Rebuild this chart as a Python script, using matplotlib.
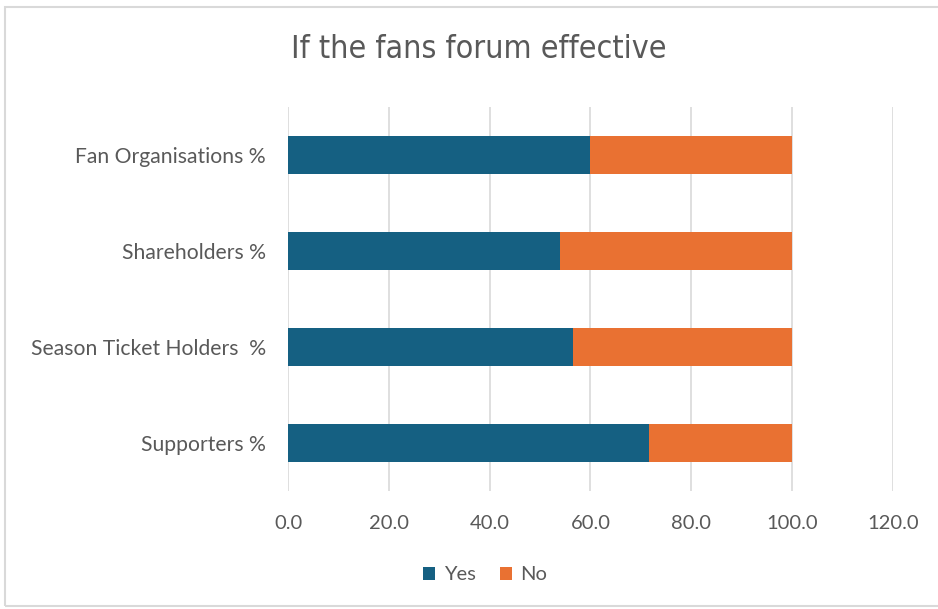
import matplotlib
matplotlib.use("Agg")
import matplotlib.pyplot as plt
from matplotlib.patches import Rectangle

categories = ["Supporters %", "Season Ticket Holders  %", "Shareholders %",
              "Fan Organisations %"]
yes_vals = [71.6, 56.6, 54.0, 60.0]
no_vals = [28.4, 43.4, 46.0, 40.0]
x_ticks = [0, 20, 40, 60, 80, 100, 120]

BLUE = "#156082"
ORANGE = "#E97132"
GREY = "#595959"

plt.rcParams["font.family"] = ["Lato", "DejaVu Sans"]

fig = plt.figure(figsize=(9.38, 6.09), dpi=100)
ax = fig.add_axes([288 / 938, 1 - 491 / 609, (892.8 - 288) / 938, 384 / 609])

pos = range(len(categories))
ax.barh(pos, yes_vals, height=0.4, color=BLUE, label="Yes")
ax.barh(pos, no_vals, left=yes_vals, height=0.4, color=ORANGE, label="No")

ax.set_xlim(0, 120)
ax.set_ylim(-0.5, len(categories) - 0.5)
ax.set_xticks(x_ticks)
ax.set_xticklabels(["%.1f" % t for t in x_ticks])
ax.set_yticks(list(pos))
ax.set_yticklabels(categories)
ax.tick_params(axis="both", length=0, labelsize=14.5, colors=GREY)
ax.tick_params(axis="y", labelsize=15.2, pad=16)
ax.tick_params(axis="x", pad=17)
ax.grid(axis="x", color="#d9d9d9", linewidth=1.2)
ax.set_axisbelow(True)
for s in ax.spines.values():
    s.set_visible(False)

fig.text(479 / 938, 1 - 50 / 609, "If the fans forum effective",
         ha="center", va="center", fontsize=23, color=GREY,
         family="DejaVu Sans", stretch="condensed")

ax.legend(loc="center", bbox_to_anchor=(485 / 938, 1 - 575 / 609),
          bbox_transform=fig.transFigure, ncol=2, frameon=False,
          fontsize=14.5, labelcolor=GREY, handlelength=0.6, handleheight=0.6,
          handletextpad=0.4, columnspacing=1.2)

fig.patches.append(Rectangle((5 / 938, 3 / 609), 940 / 938, 599 / 609,
                             transform=fig.transFigure, fill=False,
                             edgecolor="#d9d9d9", linewidth=1.5))

fig.savefig("out.png", dpi=100)
